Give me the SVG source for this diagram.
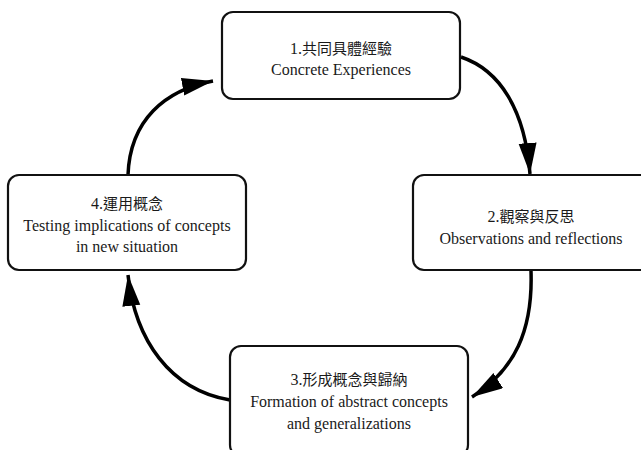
<svg xmlns="http://www.w3.org/2000/svg" width="641" height="450" viewBox="0 0 641 450">
  <style>
    .box { fill: #ffffff; stroke: #111111; stroke-width: 2.2; }
    .lbl { font-family: 'Liberation Serif', 'Times New Roman', 'DejaVu Serif', serif; font-size: 16px; fill: #1a1a1a; text-anchor: middle; }
    .cjk { font-family: 'Noto Sans CJK TC', 'Noto Sans CJK SC', sans-serif; font-size: 15px; }
    .conn { fill: none; stroke: #000000; stroke-width: 3.5; }
  </style>
  <defs>
    <marker id="head" markerUnits="userSpaceOnUse" markerWidth="32" markerHeight="20" refX="31" refY="9" orient="auto">
      <path d="M0,0 L31,9 L0,18 z" fill="#000000"/>
    </marker>
  </defs>

  <rect width="641" height="450" fill="#ffffff"/>

  <!-- cycle connectors -->
  <g id="connectors">
    <path class="conn" d="M 461 57 C 500 70, 525 110, 530 174" marker-end="url(#head)"/>
    <path class="conn" d="M 531 271 C 533 330, 515 370, 472 397" marker-end="url(#head)"/>
    <path class="conn" d="M 230 400 C 170 390, 135 340, 128 275" marker-end="url(#head)"/>
    <path class="conn" d="M 128 175 C 130 120, 165 90, 213 81" marker-end="url(#head)"/>
  </g>

  <g id="node1">
    <rect class="box" x="222" y="12" width="238" height="87" rx="11"/>
    <text class="lbl" x="341" y="54">1.<tspan class="cjk">共同具體經驗</tspan></text>
    <text class="lbl" x="341" y="75">Concrete Experiences</text>
  </g>

  <g id="node2">
    <rect class="box" x="413" y="175" width="240" height="95" rx="11"/>
    <text class="lbl" x="531" y="222">2.<tspan class="cjk">觀察與反思</tspan></text>
    <text class="lbl" x="531" y="244">Observations and reflections</text>
  </g>

  <g id="node3">
    <rect class="box" x="230" y="346" width="238" height="110" rx="11"/>
    <text class="lbl" x="349" y="385">3.<tspan class="cjk">形成概念與歸納</tspan></text>
    <text class="lbl" x="349" y="407">Formation of abstract concepts</text>
    <text class="lbl" x="349" y="429">and generalizations</text>
  </g>

  <g id="node4">
    <rect class="box" x="8" y="175" width="238" height="95" rx="11"/>
    <text class="lbl" x="127" y="209">4.<tspan class="cjk">運用概念</tspan></text>
    <text class="lbl" x="127" y="231">Testing implications of concepts</text>
    <text class="lbl" x="127" y="252">in new situation</text>
  </g>
</svg>
